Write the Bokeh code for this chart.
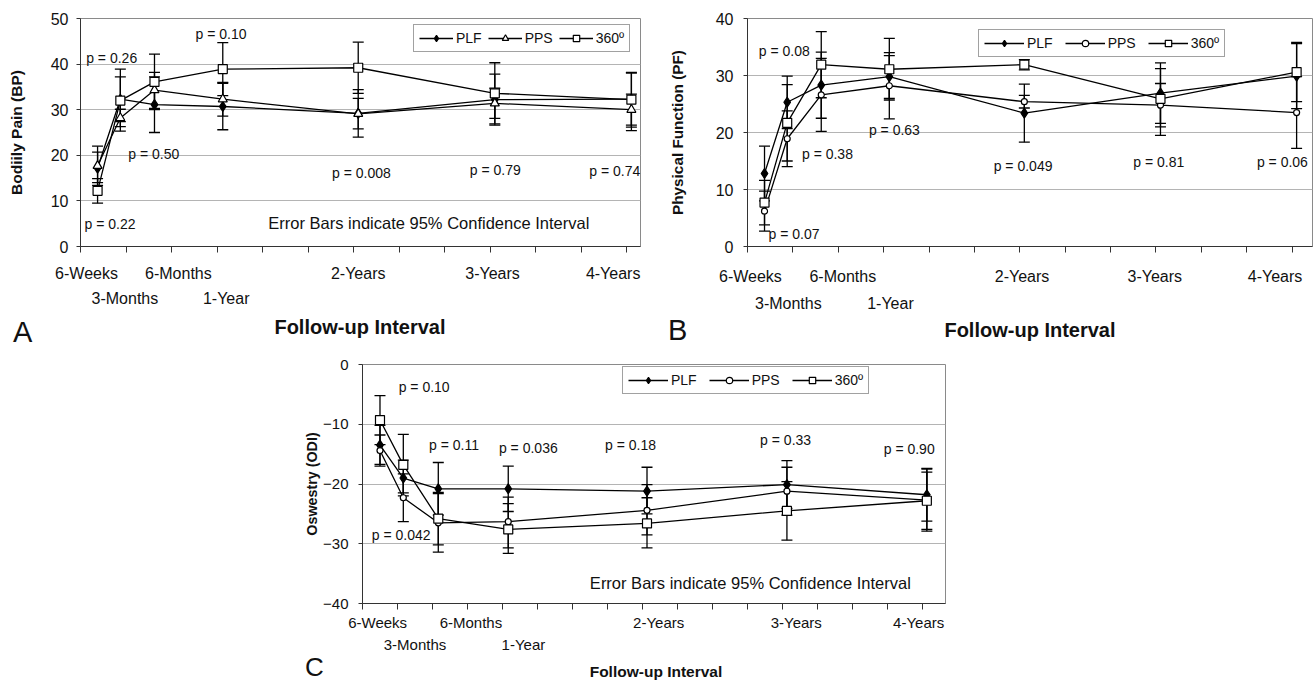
from bokeh.plotting import figure
from bokeh.models import (ColumnDataSource, Whisker, TeeHead, FixedTicker, LinearAxis, Range1d,
                          CustomJSTickFormatter, Legend, LegendItem, Label, Spacer, Div)
from bokeh.layouts import row, column
from bokeh.core.properties import value
from bokeh.embed import file_html
from bokeh.resources import INLINE

FONT = "Liberation Sans"

# ---------------- data ----------------
intervals = ["6-Weeks", "3-Months", "6-Months", "1-Year", "2-Years", "3-Years", "4-Years"]
months = [1.5, 3.5, 6.5, 12.5, 24.4, 36.4, 48.4]
row1_labels = ["6-Weeks", "6-Months", "2-Years", "3-Years", "4-Years"]
row2_labels = ["3-Months", "1-Year"]
series_names = ["PLF", "PPS", "360º"]
x_title = "Follow-up Interval"
panel_letters = ["A", "B", "C"]

# Panel A - Bodily Pain
bp_plf = [17.2, 32.3, 31.1, 30.7, 29.2, 32.2, 32.3]
bp_plf_lo = [14.0, 27.4, 25.0, 25.6, 24.0, 26.6, 25.4]
bp_plf_hi = [20.7, 37.2, 37.2, 35.8, 34.4, 37.8, 38.0]
bp_pps = [17.7, 28.2, 34.3, 32.3, 29.1, 31.4, 30.0]
bp_pps_lo = [13.4, 26.3, 30.3, 28.6, 25.8, 28.1, 26.6]
bp_pps_hi = [22.0, 30.1, 38.2, 36.0, 32.5, 34.7, 33.4]
bp_360 = [12.2, 32.0, 36.1, 38.9, 39.2, 33.6, 32.2]
bp_360_lo = [9.5, 25.3, 30.0, 33.1, 33.6, 26.9, 26.2]
bp_360_hi = [14.9, 38.9, 42.2, 44.7, 44.8, 40.3, 38.2]
bp_pvalues = ["p = 0.26", "p = 0.10", "p = 0.50", "p = 0.22", "p = 0.008", "p = 0.79", "p = 0.74"]

# Panel B - Physical Function
pf_plf = [12.8, 25.3, 28.3, 29.8, 23.4, 26.9, 29.9]
pf_plf_lo = [8.0, 20.7, 22.5, 26.0, 18.3, 21.6, 24.2]
pf_plf_hi = [17.6, 29.9, 34.1, 33.5, 28.5, 32.2, 35.6]
pf_pps = [6.2, 18.9, 26.6, 28.2, 25.4, 24.8, 23.5]
pf_pps_lo = [2.7, 14.0, 20.2, 22.4, 24.3, 21.0, 17.2]
pf_pps_hi = [9.7, 23.8, 33.0, 34.0, 26.5, 28.6, 29.8]
pf_360 = [7.7, 21.7, 31.9, 31.1, 31.9, 25.9, 30.6]
pf_360_lo = [3.8, 15.0, 26.1, 25.7, 31.0, 19.5, 25.4]
pf_360_hi = [11.6, 28.4, 37.7, 36.5, 32.8, 31.2, 35.8]
pf_pvalues = ["p = 0.08", "p = 0.38", "p = 0.63", "p = 0.07", "p = 0.049", "p = 0.81", "p = 0.06"]

# Panel C - Oswestry
odi_plf = [-13.5, -19.0, -20.8, -20.8, -21.2, -20.1, -21.8]
odi_plf_lo = [-16.7, -22.0, -25.2, -24.6, -25.0, -24.1, -26.2]
odi_plf_hi = [-10.2, -16.0, -16.4, -17.0, -17.2, -16.1, -17.4]
odi_pps = [-14.4, -22.3, -26.5, -26.3, -24.4, -21.2, -22.7]
odi_pps_lo = [-17.0, -26.3, -31.4, -30.7, -28.5, -25.2, -27.9]
odi_pps_hi = [-11.8, -18.3, -21.6, -22.2, -20.1, -17.2, -17.5]
odi_360 = [-9.3, -16.8, -25.8, -27.6, -26.6, -24.5, -22.8]
odi_360_lo = [-13.4, -21.5, -30.2, -31.6, -30.7, -29.4, -27.6]
odi_360_hi = [-5.2, -11.7, -21.4, -23.3, -22.3, -19.6, -18.0]
odi_pvalues = ["p = 0.10", "p = 0.11", "p = 0.036", "p = 0.042", "p = 0.18", "p = 0.33", "p = 0.90"]

note_text = "Error Bars indicate 95% Confidence Interval"

# ---------------- layout / positions (not data) ----------------
A_row1_pos = [0.53, 8.6, 24.4, 36.2, 46.8]
A_row2_pos = [3.9, 12.8]
B_row1_pos = [0.26, 8.4, 24.2, 35.9, 46.5]
B_row2_pos = [3.6, 12.6]
C_row1_pos = [1.3, 9.3, 25.4, 37.2, 47.7]
C_row2_pos = [4.5, 13.8]

A_p_x = [0.5, 10.1, 4.2, 0.35, 22.1, 34.2, 44.7]
A_p_y = [41.3, 46.6, 20.2, 4.9, 16.2, 16.8, 16.5]
B_p_x = [1.0, 4.8, 10.7, 1.85, 21.7, 34.0, 44.9]
B_p_y = [34.3, 16.3, 20.5, 2.2, 14.2, 14.8, 14.8]
C_p_x = [3.1, 5.7, 11.7, 0.8, 20.8, 34.1, 44.7]
C_p_y = [-3.8, -13.4, -13.9, -28.6, -13.5, -12.7, -14.1]

FMT_CODE = """
for (let i = 0; i < pos.length; i++) { if (Math.abs(tick - pos[i]) < 1e-6) return labs[i]; }
return "";
"""

AXIS_COLOR = "#333333"
GRID_COLOR = "#b4b4b4"
TEXT_COLOR = "#111111"


def make_panel(cfg):
    p = figure(width=cfg["width"], height=cfg["height"],
               x_range=Range1d(0, cfg["xmax"]), y_range=Range1d(cfg["ymin"], cfg["ymax"]),
               x_axis_type=None, output_backend="svg", toolbar_location=None,
               min_border_left=cfg["bl"], min_border_right=cfg["br"],
               min_border_top=cfg["bt"], min_border_bottom=cfg["bb"])
    p.outline_line_color = "#8a8a8a"
    p.outline_line_width = 1
    p.background_fill_color = "white"
    p.border_fill_color = "white"

    # y axis
    yax = p.yaxis[0]
    yax.ticker = FixedTicker(ticks=cfg["yticks"])
    yax.axis_line_color = AXIS_COLOR
    yax.major_tick_line_color = AXIS_COLOR
    yax.major_tick_in = 0
    yax.major_tick_out = 4
    yax.minor_tick_line_color = None
    yax.major_label_text_font = FONT
    yax.major_label_text_font_size = cfg["tick_fs"]
    yax.major_label_text_color = TEXT_COLOR
    yax.major_label_standoff = cfg["ytick_standoff"]
    yax.axis_label = cfg["ylabel"]
    yax.axis_label_text_font = FONT
    yax.axis_label_text_font_style = "bold"
    yax.axis_label_text_font_size = cfg["ylab_fs"]
    yax.axis_label_text_color = TEXT_COLOR
    yax.axis_label_standoff = cfg["ylab_standoff"]
    p.ygrid.grid_line_color = GRID_COLOR
    p.ygrid.grid_line_width = 1

    # x axis: row 1 labels + interval ticks
    ax1 = LinearAxis(ticker=FixedTicker(ticks=cfg["row1_pos"], minor_ticks=cfg["minor"]),
                     formatter=CustomJSTickFormatter(args=dict(pos=cfg["row1_pos"], labs=row1_labels), code=FMT_CODE),
                     axis_line_color=AXIS_COLOR, major_tick_in=0, major_tick_out=0,
                     major_tick_line_color=None,
                     minor_tick_in=0, minor_tick_out=6, minor_tick_line_color=AXIS_COLOR,
                     major_label_standoff=cfg["r1_standoff"],
                     major_label_text_font=FONT, major_label_text_font_size=cfg["tick_fs"],
                     major_label_text_color=TEXT_COLOR)
    p.add_layout(ax1, "below")
    # x axis: row 2 labels
    ax2 = LinearAxis(ticker=FixedTicker(ticks=cfg["row2_pos"], minor_ticks=[]),
                     formatter=CustomJSTickFormatter(args=dict(pos=cfg["row2_pos"], labs=row2_labels), code=FMT_CODE),
                     axis_line_color=None, major_tick_line_color=None, minor_tick_line_color=None,
                     major_tick_in=0, major_tick_out=0, minor_tick_in=0, minor_tick_out=0,
                     major_label_standoff=cfg["r2_standoff"],
                     major_label_text_font=FONT, major_label_text_font_size=cfg["tick_fs"],
                     major_label_text_color=TEXT_COLOR)
    p.add_layout(ax2, "below")

    # series
    items = []
    for name, (y, lo, hi), marker, msize, lsize in zip(series_names, cfg["series"], cfg["markers"],
                                                       cfg["msizes"], cfg["lsizes"]):
        src = ColumnDataSource(dict(x=months, y=y, lo=lo, hi=hi))
        w = Whisker(source=src, base="x", upper="hi", lower="lo", dimension="height",
                    line_color="black", line_width=1.3,
                    upper_head=TeeHead(size=11, line_color="black", line_width=1.3),
                    lower_head=TeeHead(size=11, line_color="black", line_width=1.3))
        p.add_layout(w)
        p.line("x", "y", source=src, line_color="black", line_width=1.3)
        fill = "black" if marker == "diamond" else "white"
        p.scatter("x", "y", source=src, marker=marker, size=msize,
                  fill_color=fill, line_color="black", line_width=1.2)
        # key-only renderers (smaller markers, as in the key); their points lie off the plotted range
        key_src = ColumnDataSource(dict(x=[-1000, -999], y=[-1000, -1000]))
        lr = p.line("x", "y", source=key_src, line_color="black", line_width=1.3)
        mr = p.scatter("x", "y", source=key_src, marker=marker, size=lsize,
                       fill_color=fill, line_color="black", line_width=1.2)
        items.append(LegendItem(label=name, renderers=[lr, mr]))

    leg = Legend(items=items, orientation="horizontal", location=cfg["legend_loc"],
                 glyph_width=cfg["glyph_w"], glyph_height=16, label_standoff=3, spacing=cfg["leg_spacing"],
                 padding=5, margin=0, border_line_color="#444444", border_line_width=1,
                 background_fill_color="white", background_fill_alpha=1.0,
                 label_text_font=FONT, label_text_font_size="14px", label_text_color=TEXT_COLOR,
                 label_height=16)
    p.add_layout(leg)

    # p values
    psrc = ColumnDataSource(dict(x=cfg["p_x"], y=cfg["p_y"], t=cfg["pvalues"]))
    p.text("x", "y", text="t", source=psrc, text_font=value(FONT), text_font_size="14px",
           text_baseline="middle", text_align="left", text_color=TEXT_COLOR)
    if cfg.get("note"):
        nx, ny = cfg["note"]
        p.add_layout(Label(x=nx, y=ny, text=note_text, text_font=FONT, text_font_size="16.5px",
                           text_baseline="middle", text_align="left", text_color=TEXT_COLOR))
    return p


def band(width, height, parts):
    """HTML strip holding panel letters and x-axis titles at fixed pixel spots."""
    spans = []
    for txt, left, top, w, fs, lh, weight, align in parts:
        spans.append(
            f'<div style="position:absolute;left:{left}px;top:{top}px;width:{w}px;'
            f'font-size:{fs}px;line-height:{lh}px;font-weight:{weight};text-align:{align};'
            f'white-space:nowrap;">{txt}</div>')
    html = (f'<div style="position:relative;width:{width}px;height:{height}px;margin:0;padding:0;'
            f"font-family:'{FONT}',Arial,sans-serif;color:{TEXT_COLOR};\">" + "".join(spans) + "</div>")
    return Div(text=html, width=width, height=height, margin=0, styles={"overflow": "visible"})


pA = make_panel(dict(
    width=660, height=314, xmax=49.2, ymin=0, ymax=50, bl=80, br=20, bt=18, bb=68,
    yticks=[0, 10, 20, 30, 40, 50], ylabel="Bodiily Pain (BP)", tick_fs="16px", ylab_fs="15.5px",
    ytick_standoff=8, ylab_standoff=23,
    row1_pos=A_row1_pos, row2_pos=A_row2_pos, minor=list(range(0, 49, 4)),
    r1_standoff=12, r2_standoff=5,
    series=[(bp_plf, bp_plf_lo, bp_plf_hi), (bp_pps, bp_pps_lo, bp_pps_hi), (bp_360, bp_360_lo, bp_360_hi)],
    markers=["diamond", "triangle", "square"], msizes=[10, 9, 9], lsizes=[8, 7, 8],
    legend_loc=(333, 194), glyph_w=34, leg_spacing=6,
    p_x=A_p_x, p_y=A_p_y, pvalues=bp_pvalues, note=(16.5, 5.2)))

pB = make_panel(dict(
    width=654, height=314, xmax=49.8, ymin=0, ymax=40, bl=87, br=2, bt=18, bb=68,
    yticks=[0, 10, 20, 30, 40], ylabel="Physical Function (PF)", tick_fs="16px", ylab_fs="15.3px",
    ytick_standoff=10, ylab_standoff=27,
    row1_pos=B_row1_pos, row2_pos=B_row2_pos, minor=list(range(0, 49, 4)),
    r1_standoff=15, r2_standoff=7,
    series=[(pf_plf, pf_plf_lo, pf_plf_hi), (pf_pps, pf_pps_lo, pf_pps_hi), (pf_360, pf_360_lo, pf_360_hi)],
    markers=["diamond", "circle", "square"], msizes=[10, 6, 9], lsizes=[8, 6, 8],
    legend_loc=(231, 189), glyph_w=40, leg_spacing=12,
    p_x=B_p_x, p_y=B_p_y, pvalues=pf_pvalues, note=None))

pC = make_panel(dict(
    width=665, height=310, xmax=50, ymin=-40, ymax=0, bl=72, br=10, bt=19, bb=52,
    yticks=[0, -10, -20, -30, -40], ylabel="Oswestry (ODI)", tick_fs="15px", ylab_fs="14.3px",
    ytick_standoff=10, ylab_standoff=0,
    row1_pos=C_row1_pos, row2_pos=C_row2_pos, minor=list(range(0, 49, 3)),
    r1_standoff=4, r2_standoff=2,
    series=[(odi_plf, odi_plf_lo, odi_plf_hi), (odi_pps, odi_pps_lo, odi_pps_hi), (odi_360, odi_360_lo, odi_360_hi)],
    markers=["diamond", "circle", "square"], msizes=[10, 6, 9], lsizes=[8, 6, 8],
    legend_loc=(260, 209), glyph_w=40, leg_spacing=12,
    p_x=C_p_x, p_y=C_p_y, pvalues=odi_pvalues, note=(19.5, -36.5)))

top_band = band(1314, 31, [
    (panel_letters[0], 13, 4, 40, 29, 29, "normal", "left"),
    (x_title, 240, 3, 240, 20, 20, "bold", "center"),
    (panel_letters[1], 668, 2, 40, 29, 29, "normal", "left"),
    (x_title, 910, 6, 240, 20, 20, "bold", "center"),
])
bottom_band = band(1314, 25, [
    (panel_letters[2], 305, 0, 40, 26, 25, "normal", "left"),
    (x_title, 556, 9, 200, 15.5, 15.5, "bold", "center"),
])

layout = column(row(pA, pB), top_band, row(Spacer(width=290, height=310, margin=0), pC), bottom_band)
open("out.html", "w").write(file_html(layout, INLINE))
